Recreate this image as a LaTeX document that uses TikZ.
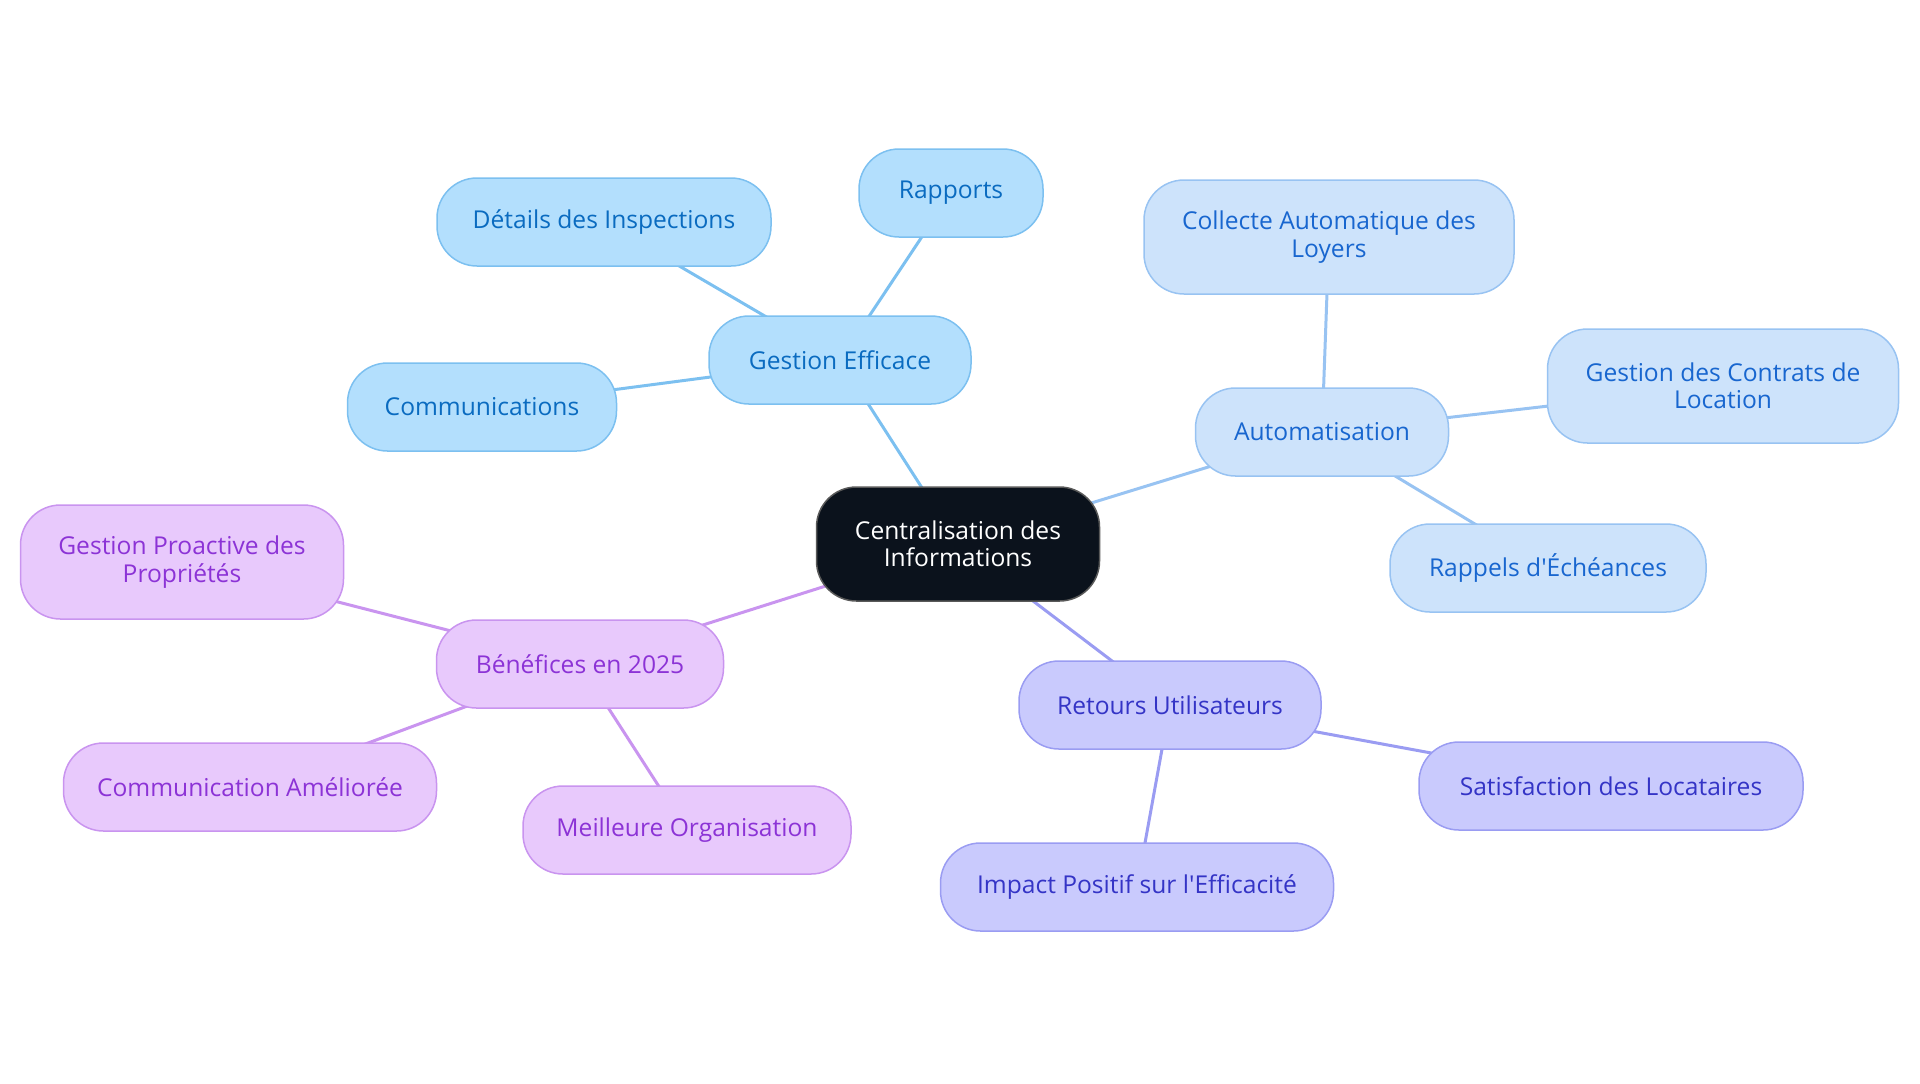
\documentclass[tikz,border=0pt]{standalone}
\usepackage{fontspec}
\setmainfont{Open Sans}
\usetikzlibrary{backgrounds}

\definecolor{cefill}{HTML}{0B121C}
\definecolor{gefill}{HTML}{B3DFFD}
\definecolor{gedraw}{HTML}{7CC0F0}
\definecolor{getext}{HTML}{0A6BC0}
\definecolor{aufill}{HTML}{CDE3FB}
\definecolor{audraw}{HTML}{98C3F2}
\definecolor{autext}{HTML}{1866CF}
\definecolor{befill}{HTML}{E8C9FC}
\definecolor{bedraw}{HTML}{C994EF}
\definecolor{betext}{HTML}{8C33D6}
\definecolor{refill}{HTML}{C9CAFD}
\definecolor{redraw}{HTML}{9A9CF2}
\definecolor{retext}{HTML}{3434C6}

\begin{document}
\begin{tikzpicture}[
    x=0.5pt, y=-0.5pt,
    box/.style={rounded corners=20pt, line width=0.75pt, align=center,
        minimum height=44pt, inner sep=2pt,
        font=\fontsize{12.3}{13.6}\selectfont},
    tall/.style={minimum height=57pt},
    centre/.style={box, fill=cefill, draw=gray!70!black, text=white, minimum height=57pt},
    gbox/.style={box, fill=gefill, draw=gedraw, text=getext},
    abox/.style={box, fill=aufill, draw=audraw, text=autext},
    bbox/.style={box, fill=befill, draw=bedraw, text=betext},
    rbox/.style={box, fill=refill, draw=redraw, text=retext},
    glink/.style={draw=gedraw, line width=1.5pt},
    alink/.style={draw=audraw, line width=1.5pt},
    blink/.style={draw=bedraw, line width=1.5pt},
    rlink/.style={draw=redraw, line width=1.5pt}
]
    \useasboundingbox (0,0) rectangle (1920,1083);

    % ---- centre ----
    \node[centre, minimum width=141.5pt] (info) at (958,544) {Centralisation des\\Informations};

    % ---- gestion efficace ----
    \node[gbox, minimum width=131pt] (gestion) at (840,360) {Gestion Efficace};
    \node[gbox, minimum width=92pt]  (rapports) at (951,193) {Rapports};
    \node[gbox, minimum width=167pt] (details) at (604,222) {Détails des Inspections};
    \node[gbox, minimum width=134.5pt] (comms) at (482,407) {Communications};

    % ---- automatisation ----
    \node[abox, minimum width=126.5pt] (auto) at (1322,432) {Automatisation};
    \node[abox, tall, minimum width=185pt] (collecte) at (1329,237) {Collecte Automatique des\\Loyers};
    \node[abox, tall, minimum width=175.5pt] (contrats) at (1723,386) {Gestion des Contrats de\\Location};
    \node[abox, minimum width=158pt] (rappels) at (1548,568) {Rappels d\textquotesingle Échéances};

    % ---- benefices ----
    \node[bbox, minimum width=143.5pt] (benef) at (580,664) {Bénéfices en 2025};
    \node[bbox, tall, minimum width=161.5pt] (proactive) at (182,562) {Gestion Proactive des\\Propriétés};
    \node[bbox, minimum width=186.5pt] (amelioree) at (250,787) {Communication Améliorée};
    \node[bbox, minimum width=164pt] (organisation) at (687,830) {Meilleure Organisation};

    % ---- retours ----
    \node[rbox, minimum width=151pt] (retours) at (1170,705) {Retours Utilisateurs};
    \node[rbox, minimum width=192pt] (satisf) at (1611,786) {Satisfaction des Locataires};
    \node[rbox, minimum width=196.5pt] (impact) at (1137,887) {Impact Positif sur l\textquotesingle Efficacité};

    % ---- links ----
    \begin{scope}[on background layer]
        \draw[glink] (info.center) -- (gestion.center);
        \foreach \n in {rapports, details, comms}
            \draw[glink] (gestion.center) -- (\n.center);
        \draw[alink] (info.center) -- (auto.center);
        \foreach \n in {collecte, contrats, rappels}
            \draw[alink] (auto.center) -- (\n.center);
        \draw[blink] (info.center) -- (benef.center);
        \foreach \n in {proactive, amelioree, organisation}
            \draw[blink] (benef.center) -- (\n.center);
        \draw[rlink] (info.center) -- (retours.center);
        \foreach \n in {satisf, impact}
            \draw[rlink] (retours.center) -- (\n.center);
    \end{scope}
\end{tikzpicture}
\end{document}
